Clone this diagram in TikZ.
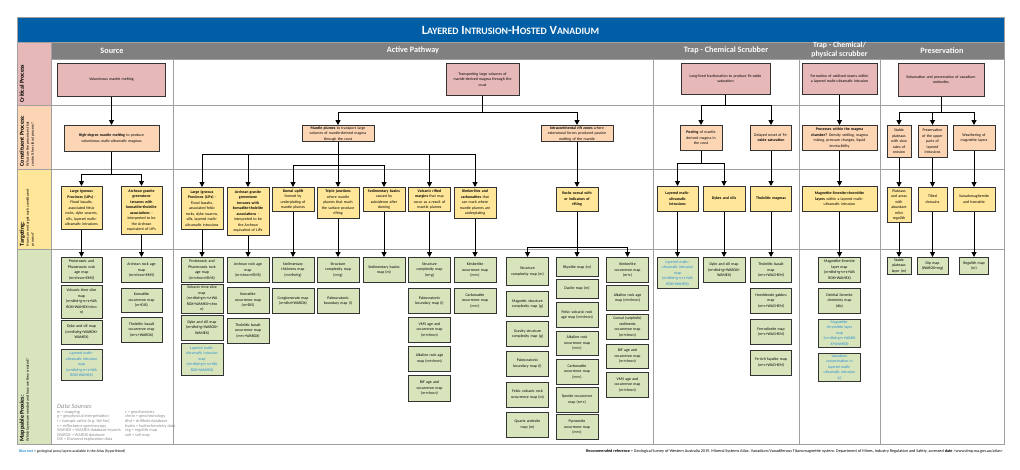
\documentclass[tikz,border=0pt]{standalone}
\usepackage{fontspec}
\setmainfont{Carlito}
\usetikzlibrary{positioning}
\usetikzlibrary{arrows.meta}

\definecolor{titleblue}{RGB}{0,94,166}
\definecolor{headgray}{RGB}{128,128,128}
\definecolor{gridgray}{RGB}{160,160,160}
\definecolor{critpink}{RGB}{230,184,183}
\definecolor{conspeach}{RGB}{252,213,180}
\definecolor{targyellow}{RGB}{255,230,153}
\definecolor{mapgreen}{RGB}{216,228,188}
\definecolor{atlasblue}{RGB}{38,140,210}
\definecolor{legendgray}{RGB}{140,140,140}

\newcommand\boxfont{\fontsize{3.9}{5.5}\selectfont}
\newcommand\smc[1]{{\fontsize{9.8}{10}\selectfont #1}}
\newcommand\atlas[1]{\textcolor{atlasblue}{#1}}

\tikzset{
	cell/.style={draw=black!80, line width=0.8pt, align=center, font=\boxfont, inner sep=1pt, anchor=north},
	crit/.style={cell, fill=critpink},
	cons/.style={cell, fill=conspeach},
	targ/.style={cell, fill=targyellow, text width=40pt},
	mapp/.style={cell, fill=mapgreen, text width=40pt, minimum height=25pt, line width=0.9pt},
	arr/.style={line width=1pt, -{Triangle[length=5pt,width=5pt]}},
	gridline/.style={draw=gridgray, line width=0.9pt},
	headtxt/.style={text=white, font=\fontsize{8.2}{8.5}\selectfont\bfseries, align=center},
	rowlabel/.style={rotate=90, anchor=north west, align=left, inner sep=0.5pt, font=\fontsize{3.9}{5}\selectfont},
	legend/.style={anchor=north west, inner sep=0pt, align=left, text=legendgray, font=\fontsize{4.3}{4.6}\selectfont},
}

\begin{document}
\begin{tikzpicture}[x=1pt,y=-1pt]
	\useasboundingbox (0,0) rectangle (1020,469);

	% Frame, title and headers
	\fill [titleblue] (17,17) rectangle (1004,42);
	\fill [headgray] (51,42) rectangle (1004,59);
	\fill [critpink] (17,42) rectangle (51,105);
	\fill [conspeach] (17,105) rectangle (51,169);
	\fill [targyellow] (17,169) rectangle (51,249);
	\fill [mapgreen] (17,249) rectangle (51,444);
	\draw [gridline] (17,42) -- (1004,42);
	\draw [gridline] (51,59) -- (1004,59);
	\foreach \y in {105,169,249} \draw [gridline] (17,\y) -- (1004,\y);
	\draw [gridline] (51,42) -- (51,444);
	\foreach \x in {173,653,799,880} \draw [gridline] (\x,59) -- (\x,444);
	\draw [gridline] (17,17) rectangle (1004,444);

	\node [text=white, font=\fontsize{12.5}{13}\selectfont\bfseries] at (510.5,30) (title) {L\smc{AYERED} I\smc{NTRUSION}-H\smc{OSTED} V\smc{ANADIUM}};
	\node [headtxt] at (112,50.5) (hSource) {Source};
	\node [headtxt] at (413,50.5) (hActive) {Active Pathway};
	\node [headtxt] at (726,50.5) (hTrapC) {Trap - Chemical Scrubber};
	\node [headtxt, font=\fontsize{7.8}{9}\selectfont\bfseries] at (839.5,49.5) (hTrapP) {Trap - Chemical/\\ physical scrubber};
	\node [headtxt] at (942,50.5) (hPres) {Preservation};

	% Row labels
	\node [rowlabel] at (19,103) (lCrit) {\fontsize{6}{7}\selectfont\bfseries Critical Process};
	\node [rowlabel] at (19,167) (lCons) {{\fontsize{6}{7}\selectfont\bfseries Constituent Process:}\\ What are the processes that\\ control the critical process?};
	\node [rowlabel] at (19,247) (lTarg) {{\fontsize{6}{7}\selectfont\bfseries Targeting:}\\ How can we target each constituent\\ process?};
	\node [rowlabel] at (19,442) (lMapp) {{\fontsize{6}{7}\selectfont\bfseries Mappable Proxies:}\\ Which layers are needed and how are they created?};

	% Source
	\node [crit, text width=106pt, minimum height=33pt] at (111.5,63) (srcCrit) {Voluminous mantle melting};
	\node [cons, text width=93pt, minimum height=26pt] at (111.5,125) (srcCons) {\textbf{High-degree mantle melting} to produce\\ voluminous mafic-ultramafic magmas};
	\node [targ, text width=39pt, minimum height=43pt] at (81.5,186) (srcLIP) {\textbf{Large Igneous}\\ \textbf{Provinces (LIPs)} -\\ Flood basalts,\\ associated felsic\\ rocks, dyke swarms,\\ sills, layered mafic-\\ ultramafic intrusions};
	\node [targ, text width=39pt, minimum height=48pt] at (141.5,186) (srcArch) {\textbf{Archean granite}\\ \textbf{greenstone}\\ \textbf{terranes with}\\ \textbf{komatiite-tholeiite}\\ \textbf{associations} --\\ interpreted to be\\ the Archean\\ equivalent of LIPs};
	\node [mapp, text width=39pt] at (81.5,257) (srcLIP1) {Proterozoic and\\ Phanerozoic rock\\ age map\\ (m+chron+EMS)};
	\node [mapp, text width=39pt, minimum height=33pt, below=2pt of srcLIP1] (srcLIP2) {Volcanic time slice\\ map\\ (m+dhd+g+c+s+WA\\ ROX+WAMEX+chro\\ n)};
	\node [mapp, text width=39pt, minimum height=24pt, below=1pt of srcLIP2] (srcLIP3) {Dyke and sill map\\ (m+dhd+g+WAROX+\\ WAMEX)};
	\node [mapp, text width=39pt, minimum height=31pt, below=4pt of srcLIP3] (srcLIP4) {\atlas{Layered mafic-}\\ \atlas{ultramafic intrusion}\\ \atlas{map}\\ \atlas{(m+dhd+g+c+s+WA}\\ \atlas{ROX+WAMEX)}};
	\node [mapp, text width=39pt] at (141.5,257) (srcArch1) {Archean rock age\\ map\\ (m+chron+EMS)};
	\node [mapp, text width=39pt, minimum height=24pt, below=5pt of srcArch1] (srcArch2) {Komatiite\\ occurrence map\\ (m+DIS)};
	\node [mapp, text width=39pt, below=4pt of srcArch2] (srcArch3) {Tholeiitic basalt\\ occurrence map\\ (m+c+WAROX)};

	% Active pathway
	\node [crit, text width=71pt, minimum height=32pt] at (482.5,63) (actCrit) {Transporting large volumes of\\ mantle-derived magma through the\\ crust};
	\node [cons, text width=70pt] at (338,125) (actPlume) {\textbf{Mantle plumes} to transport large\\ volumes of mantle-derived magma\\ through the crust};
	\node [cons, text width=70pt] at (577,125) (actRift) {\textbf{Intracontinental rift zones} where\\ extensional forces produced passive\\ melting of the mantle};
	\node [targ, minimum height=42pt] at (202,187) (actLIP) {\textbf{Large Igneous}\\ \textbf{Provinces (LIPs)} -\\ Flood basalts,\\ associated felsic\\ rocks, dyke swarms,\\ sills, layered mafic-\\ ultramafic intrusions};
	\node [targ, minimum height=48pt] at (248,187) (actArch) {\textbf{Archean granite}\\ \textbf{greenstone}\\ \textbf{terranes with}\\ \textbf{komatiite-tholeiite}\\ \textbf{associations} --\\ interpreted to be\\ the Archean\\ equivalent of LIPs};
	\node [targ, minimum height=24pt] at (293,187) (actDomal) {\textbf{Domal uplift}\\ formed by\\ underplating of\\ mantle plumes};
	\node [targ, minimum height=31pt] at (338,187) (actTriple) {\textbf{Triple junctions}\\ where mantle\\ plumes that reach\\ the surface produce\\ rifting};
	\node [targ, minimum height=24pt] at (384,187) (actSed) {\textbf{Sedimentary basins}\\ caused by\\ subsidence after\\ doming};
	\node [targ, minimum height=24pt] at (429.5,187) (actVolc) {\textbf{Volcanic rifted}\\ \textbf{margins} that may\\ occur as a result of\\ mantle plumes};
	\node [targ, minimum height=31pt] at (475,187) (actKimb) {\textbf{Kimberlites and}\\ \textbf{carbonatites} that\\ can mark where\\ mantle plumes are\\ underplating};
	\node [targ, minimum height=24pt] at (577,187) (actRocks) {\textbf{Rocks coeval with}\\ \textbf{or indicators of}\\ \textbf{rifting}};

	\node [mapp] at (202,257) (actLIP1) {Proterozoic and\\ Phanerozoic rock\\ age map\\ (m+chron+EMS)};
	\node [mapp, minimum height=29pt, below=1pt of actLIP1] (actLIP2) {Volcanic time slice\\ map\\ (m+dhd+g+c+s+WA\\ ROX+WAMEX+chro\\ n)};
	\node [mapp, below=1pt of actLIP2] (actLIP3) {Dyke and sill map\\ (m+dhd+g+WAROX+\\ WAMEX)};
	\node [mapp, minimum height=32pt, below=2pt of actLIP3] (actLIP4) {\atlas{Layered mafic-}\\ \atlas{ultramafic intrusion}\\ \atlas{map}\\ \atlas{(m+dhd+g+c+s+WA}\\ \atlas{ROX+WAMEX)}};
	\node [mapp] at (248,257) (actArch1) {Archean rock age\\ map\\ (m+chron+EMS)};
	\node [mapp, minimum height=26pt, below=4pt of actArch1] (actArch2) {Komatiite\\ occurrence map\\ (m+DIS)};
	\node [mapp, below=4pt of actArch2] (actArch3) {Tholeiitic basalt\\ occurrence map\\ (m+c+WAROX)};
	\node [mapp] at (293,257) (actDomal1) {Sedimentary\\ thickness map\\ (m+dhd+g)};
	\node [mapp, below=5pt of actDomal1] (actDomal2) {Conglomerate map\\ (m+dhd+WAROX)};
	\node [mapp] at (338,257) (actTriple1) {Structure\\ complexity map\\ (m+g)};
	\node [mapp, below=5pt of actTriple1] (actTriple2) {Paleocratonic\\ boundary map (i)};
	\node [mapp] at (384,257) (actSed1) {Sedimentary basins\\ map (m)};
	\node [mapp] at (429.5,257) (actVolc1) {Structure\\ complexity map\\ (m+g)};
	\node [mapp, below=5pt of actVolc1] (actVolc2) {Paleocratonic\\ boundary map (i)};
	\node [mapp, below=3pt of actVolc2] (actVolc3) {VMS age and\\ occurrence map\\ (m+chron)};
	\node [mapp, below=3pt of actVolc3] (actVolc4) {Alkaline rock age\\ map (m+chron)};
	\node [mapp, minimum height=26pt, below=3pt of actVolc4] (actVolc5) {BIF age and\\ occurrence map\\ (m+chron)};
	\node [mapp] at (475,257) (actKimb1) {Kimberlite\\ occurrence map\\ (m+c)};
	\node [mapp, below=5pt of actKimb1] (actKimb2) {Carbonatite\\ occurrence map\\ (m+c)};

	\node [mapp, minimum height=28pt] at (527.5,257) (riftA1) {Structure\\ complexity map (m)};
	\node [mapp, below=5pt of riftA1] (riftA2) {Magnetic structure\\ complexity map (g)};
	\node [mapp, below=4pt of riftA2] (riftA3) {Gravity structure\\ complexity map (g)};
	\node [mapp, below=4pt of riftA3] (riftA4) {Paleocratonic\\ boundary map (i)};
	\node [mapp, below=5pt of riftA4] (riftA5) {Felsic volcanic rock\\ occurrence map (m)};
	\node [mapp, below=4pt of riftA5] (riftA6) {Quartz andesite\\ map (m)};
	\node [mapp, minimum height=19pt] at (577,257) (riftB1) {Rhyolite map (m)};
	\node [mapp, minimum height=19pt, below=2pt of riftB1] (riftB2) {Dacite map (m)};
	\node [mapp, below=3pt of riftB2] (riftB3) {Felsic volcanic rock\\ age map (m+chron)};
	\node [mapp, minimum height=24pt, below=3pt of riftB3] (riftB4) {Alkaline rock\\ occurrence map\\ (m+c)};
	\node [mapp, below=3pt of riftB4] (riftB5) {Carbonatite\\ occurrence map\\ (m+c)};
	\node [mapp, below=2pt of riftB5] (riftB6) {Syenite occurrence\\ map (m+c)};
	\node [mapp, below=2pt of riftB6] (riftB7) {Pyroxenite\\ occurrence map\\ (m+c)};
	\node [mapp] at (627.5,257) (riftC1) {Kimberlite\\ occurrence map\\ (m+c)};
	\node [mapp, below=2pt of riftC1] (riftC2) {Alkaline rock age\\ map (m+chron)};
	\node [mapp, below=3pt of riftC2] (riftC3) {Coeval (sulphidic)\\ sediments\\ occurrence map\\ (m+chron)};
	\node [mapp, minimum height=24pt, below=4pt of riftC3] (riftC4) {BIF age and\\ occurrence map\\ (m+chron)};
	\node [mapp, below=3pt of riftC4] (riftC5) {VMS age and\\ occurrence map\\ (m+chron)};

	% Trap - chemical scrubber
	\node [crit, text width=87pt, minimum height=31pt] at (725.5,63) (trcCrit) {Long-lived fractionation to produce Fe-oxide\\ saturation};
	\node [cons, text width=40pt, minimum height=25pt] at (701,125) (trcPool) {\textbf{Pooling} of mantle\\ derived magma in\\ the crust};
	\node [cons, text width=39pt, minimum height=25pt] at (771,125) (trcDelay) {Delayed onset of Fe-\\ \textbf{oxide saturation}};
	\node [targ, text width=39pt, minimum height=25pt] at (677.5,186) (trcLayer) {\textbf{Layered mafic-}\\ \textbf{ultramafic}\\ \textbf{intrusions}};
	\node [targ, minimum height=25pt] at (724,186) (trcDyke) {\textbf{Dykes and sills}};
	\node [targ, text width=39pt, minimum height=25pt] at (771,186) (trcThol) {\textbf{Tholeiitic magmas}};
	\node [mapp, text width=39pt, minimum height=31pt] at (677.5,257) (trcLayer1) {\atlas{Layered mafic-}\\ \atlas{ultramafic intrusion}\\ \atlas{map}\\ \atlas{(m+dhd+g+c+s+WA}\\ \atlas{ROX+WAMEX)}};
	\node [mapp] at (724,257) (trcDyke1) {Dyke and sill map\\ (m+dhd+g+WAROX+\\ WAMEX)};
	\node [mapp, text width=39pt] at (771,257) (trcThol1) {Tholeiitic basalt\\ map\\ (m+c+WACHEM)};
	\node [mapp, text width=39pt, below=5pt of trcThol1] (trcThol2) {Hornblende gabbro\\ map\\ (m+c+WACHEM)};
	\node [mapp, text width=39pt, below=5pt of trcThol2] (trcThol3) {Ferrodiorite map\\ (m+c+WACHEM)};
	\node [mapp, text width=39pt, below=5pt of trcThol3] (trcThol4) {Fe-rich fayalite map\\ (m+c+WACHEM)};

	% Trap - chemical/physical scrubber
	\node [crit, text width=73pt, minimum height=31pt] at (839.5,63) (trpCrit) {Formation of oxidised seams within\\ a layered mafic-ultramafic intrusion};
	\node [cons, text width=73pt, minimum height=25pt] at (839.5,125) (trpProc) {\textbf{Processes within the magma}\\ \textbf{chamber?} Density settling, magma\\ mixing, pressure changes, liquid\\ immiscibility};
	\node [targ, text width=73pt, minimum height=25pt] at (839.5,186) (trpMag) {\textbf{Magnetite-ilmenite-chromitite}\\ \textbf{layers} within a layered mafic-\\ ultramafic intrusion};
	\node [mapp] at (839.5,257) (trpMag1) {Magnetite-ilmenite\\ layer map\\ (m+dhd+g+c+s+WA\\ ROX+WAMEX)};
	\node [mapp, below=5pt of trpMag1] (trpMag2) {Detrital ilmenite\\ chemistry map\\ (dis)};
	\node [mapp, minimum height=28pt, below=5pt of trpMag2] (trpMag3) {\atlas{Magnetite-}\\ \atlas{chromitite layer}\\ \atlas{map}\\ \atlas{(m+dhd+g+c+WARO}\\ \atlas{X+WAMEX)}};
	\node [mapp, minimum height=28pt, below=5pt of trpMag3] (trpMag4) {\atlas{Vanadium}\\ \atlas{concentration in}\\ \atlas{layered mafic-}\\ \atlas{ultramafic intrusion}\\ \atlas{(c)}};

	% Preservation
	\node [crit, text width=84pt, minimum height=33pt] at (941,63) (presCrit) {Exhumation and preservation of vanadium\\ orebodies};
	\node [cons, text width=22pt, minimum height=32pt] at (899,125) (presStable) {Stable\\ plateaus\\ with slow\\ rates of\\ erosion};
	\node [cons, text width=27pt, minimum height=32pt] at (932.5,125) (presUpper) {Preservation\\ of the upper\\ parts of\\ layered\\ intrusions};
	\node [cons, text width=40pt, minimum height=25pt] at (974,125) (presWeather) {Weathering of\\ magnetite layers};
	\node [targ, text width=22pt, minimum height=35pt] at (899,187) (presPlat) {Plateaus\\ and areas\\ with\\ abundant\\ relict\\ regolith};
	\node [targ, text width=27pt, minimum height=24pt] at (932.5,187) (presTilt) {Tilted\\ domains};
	\node [targ, text width=40pt, minimum height=24pt] at (974,187) (presVan) {Vanadomaghemite\\ and hematite};
	\node [mapp, text width=22pt, minimum height=17pt] at (899,257) (presPlat1) {Stable\\ plateaus\\ layer (m)};
	\node [mapp, text width=29pt, minimum height=17pt] at (932.5,257) (presTilt1) {Dip map\\ (WAROX+reg)};
	\node [mapp, text width=27pt, minimum height=17pt] at (974,257) (presVan1) {Regolith map\\ (m)};

	% Data sources and footer
	\node [anchor=north west, inner sep=0pt, text=legendgray, font=\fontsize{6.5}{7}\selectfont\itshape] at (57,404) (dsTitle) {Data Sources};
	\node [legend] at ([yshift=-1.5pt]dsTitle.south west) (dsLeft) {m = mapping\\ g = geophysical interpretation\\ i = isotopic ratios (e.g. Nd-Sm)\\ s = reflectance spectroscopy\\ WAMEX = WAMEX database/reports\\ WAROX = WAROX database\\ DIS = Diamond exploration data};
	\node [legend] at ([xshift=68pt]dsLeft.north west) (dsRight) {c = geochemistry\\ chron = geochronology\\ dhd = drillhole database\\ hydro = hydrochemistry data\\ reg = regolith map\\ soil = soil map};
	\node [anchor=west, inner sep=0pt, font=\fontsize{3.8}{4.5}\selectfont] at (19,451) (noteBlue) {\textcolor{atlasblue}{\textbf{Blue text}} = geological proxy layers available in the Atlas (hyperlinked)};
	\node [anchor=east, inner sep=0pt, font=\fontsize{4.2}{4.8}\selectfont] at (1003,451) (noteRef) {\textbf{Recommended reference} = Geological Survey of Western Australia 2019, Mineral Systems Atlas: Vanadium/Vanadiferous Titanomagnetite system. Department of Mines, Industry Regulation and Safety, accessed \textbf{date} <www.dmp.wa.gov.au/atlas>};

	% Connections: source
	\draw [arr] (srcCrit) -- (srcCons);
	\draw [arr] (srcCons.south) -- ++(0,23) -| (srcLIP.north);
	\draw [arr] (srcCons.south) -- ++(0,23) -| (srcArch.north);
	\draw [arr] (srcLIP) -- (srcLIP1);
	\draw [arr] (srcArch) -- (srcArch1);

	% Connections: active pathway
	\draw [arr] (actCrit.south) -- ++(0,17) -| (actPlume.north);
	\draw [arr] (actCrit.south) -- ++(0,17) -| (actRift.north);
	\draw [arr] (actPlume.south) -- ++(0,12) -| (actLIP.north);
	\draw [arr] (actPlume.south) -- ++(0,12) -| (actArch.north);
	\draw [arr] (actPlume.south) -- ++(0,12) -| (actVolc.north);
	\draw [arr] (actPlume.south) -- ++(0,12) -| (actKimb.north);
	\draw [arr] (actPlume.south) -- ++(0,23) -| (actDomal.north);
	\draw [arr] (actPlume.south) -- ++(0,23) -| (actSed.north);
	\draw [arr] (actPlume) -- (actTriple);
	\draw [arr] (actRift) -- (actRocks);
	\foreach \t in {LIP,Arch,Domal,Triple,Sed,Volc,Kimb}
		\draw [arr] (act\t) -- (act\t1);
	\draw [arr] (actRocks.south) -- ++(0,36) -| (riftA1.north);
	\draw [arr] (actRocks) -- (riftB1);
	\draw [arr] (actRocks.south) -- ++(0,36) -| (riftC1.north);

	% Connections: traps
	\draw [arr] (trcCrit.south) -- ++(0,11) -| (trcPool.north);
	\draw [arr] (trcCrit.south) -- ++(0,11) -| (trcDelay.north);
	\draw [arr] (trcPool.south) -- ++(0,13) -| (trcLayer.north);
	\draw [arr] (trcPool.south) -- ++(0,13) -| (trcDyke.north);
	\draw [arr] (trcDelay) -- (trcThol);
	\draw [arr] (trcLayer) -- (trcLayer1);
	\draw [arr] (trcDyke) -- (trcDyke1);
	\draw [arr] (trcThol) -- (trcThol1);
	\draw [arr] (trpCrit) -- (trpProc);
	\draw [arr] (trpProc) -- (trpMag);
	\draw [arr] (trpMag) -- (trpMag1);

	% Connections: preservation
	\draw [arr] (presCrit.south) -- ++(0,16) -| (presStable.north);
	\draw [arr] (presCrit.south) -- ++(0,16) -| (presUpper.north);
	\draw [arr] (presCrit.south) -- ++(0,16) -| (presWeather.north);
	\draw [arr] (presStable) -- (presPlat);
	\draw [arr] (presUpper) -- (presTilt);
	\draw [arr] (presWeather) -- (presVan);
	\draw [arr] (presPlat) -- (presPlat1);
	\draw [arr] (presTilt) -- (presTilt1);
	\draw [arr] (presVan) -- (presVan1);
\end{tikzpicture}
\end{document}
